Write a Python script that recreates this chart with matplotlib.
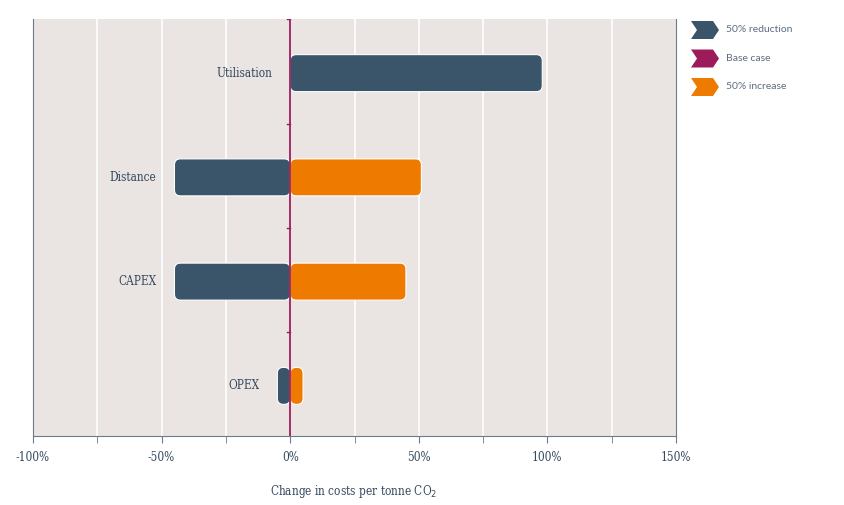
import numpy as np
import matplotlib.pyplot as plt
from matplotlib.patches import FancyBboxPatch, Polygon

# data
categories = ['Utilisation', 'Distance', 'CAPEX', 'OPEX']
reduction = [98, -45, -45, -5]     # 50% reduction
increase = [0, 51, 45, 5]          # 50% increase
legend_labels = ['50% reduction', 'Base case', '50% increase']

c_red = '#3a556a'
c_base = '#9c1c5b'
c_inc = '#ee7a00'
c_text = '#34495e'
bg = '#eae5e2'
serif = dict(family='DejaVu Serif', stretch='condensed')

fig = plt.figure(figsize=(8.45, 5.05), dpi=100)
ax = fig.add_axes([33 / 845, 1 - 436 / 505, 643 / 845, 417 / 505])
ax.set_facecolor(bg)
ax.set_xlim(-100, 150)
ax.set_ylim(len(categories) - 0.5, -0.5)

# grid every 25%
for gx in np.arange(-75, 150, 25):
    ax.axvline(gx, color='white', lw=1.2, zorder=1)

# rounded bars, aspect corrected
px_x = 643 / 250.0
px_y = 417 / len(categories)
bar_h = 37 / px_y
shift = 2 / px_y
rad = 6 / px_x
asp = px_x / px_y


def rbar(x0, x1, y, color):
    if x1 == x0:
        return
    lo, hi = min(x0, x1), max(x0, x1)
    p = FancyBboxPatch((lo, y + shift - bar_h / 2), hi - lo, bar_h,
                       boxstyle='round,pad=0,rounding_size=%f' % rad,
                       mutation_aspect=asp, fc=color, ec='white', lw=0.8,
                       zorder=3)
    ax.add_patch(p)


for i, cat in enumerate(categories):
    rbar(0, reduction[i], i, c_red)
    rbar(0, increase[i], i, c_inc)
    left = min(0, reduction[i], increase[i])
    ax.text(left - 7, i + shift, cat, ha='right', va='center', fontsize=8.5,
            color=c_text, zorder=4, **serif)

# base case line with small ticks
ax.axvline(0, color=c_base, lw=1.3, zorder=5)
for b in np.arange(-0.5, len(categories) - 0.5, 1):
    ax.plot([-1.4, 0], [b + 0.004, b + 0.004], color=c_base, lw=1, zorder=5)

ax.set_yticks([])
ax.set_xticks([-100, -50, 0, 50, 100, 150])
ax.set_xticks(np.arange(-75, 150, 50), minor=True)
ax.set_xticklabels(['-100%', '-50%', '0%', '50%', '100%', '150%'],
                   fontsize=8.5, color=c_text, **serif)
ax.tick_params(axis='x', which='both', length=5, color='#6b7b8a', pad=6)
for s in ['left', 'right', 'bottom']:
    ax.spines[s].set_color('#6b7b8a')
ax.spines['top'].set_visible(False)

fig.text(354 / 845, 1 - 491 / 505, 'Change in costs per tonne CO$_2$',
         ha='center', va='center', fontsize=8.5, color=c_text, **serif)

# chevron legend
W, H = 845.0, 505.0
for k, (lab, col) in enumerate(zip(legend_labels, [c_red, c_base, c_inc])):
    yc = 30 + k * 28.5
    x0 = 691
    pts = [(x0, yc - 9), (x0 + 22, yc - 9), (x0 + 28, yc), (x0 + 22, yc + 9),
           (x0, yc + 9), (x0 + 6, yc)]
    pts = [(x / W, 1 - y / H) for x, y in pts]
    fig.patches.append(Polygon(pts, closed=True, fc=col, ec='none',
                               transform=fig.transFigure))
    fig.text(726 / W, 1 - yc / H, lab, ha='left', va='center', fontsize=7.5,
             family='Lato', color='#5d6d7e')

fig.savefig('out.png', dpi=100)
